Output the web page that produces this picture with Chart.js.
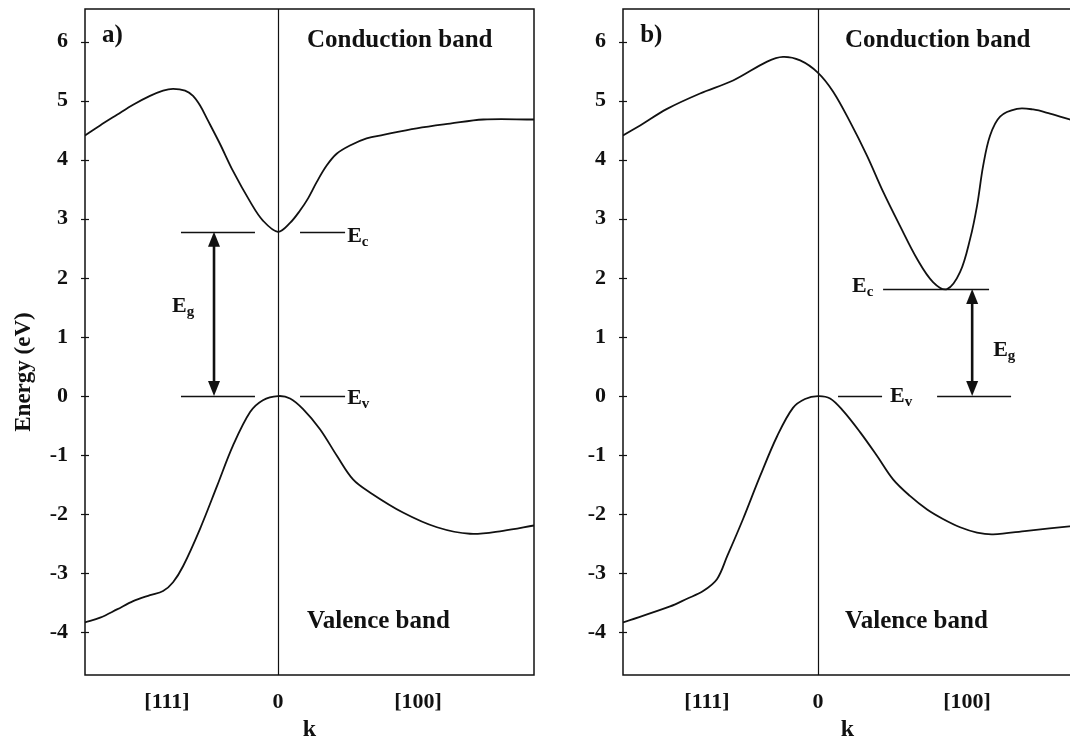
<!DOCTYPE html>
<html><head><meta charset="utf-8">
<script src="https://cdn.jsdelivr.net/npm/chart.js@4.4.1/dist/chart.umd.min.js"></script>
<style>
html,body{margin:0;padding:0;background:#fff;overflow:hidden;width:1070px;height:742px;}
#ca{position:absolute;left:0;top:0;}
#cb{position:absolute;left:540px;top:0;}
</style></head><body>
<canvas id="ca" width="545" height="742"></canvas>
<canvas id="cb" width="545" height="742"></canvas>
<script>
// ---- data ----
const yTickValues = [-4,-3,-2,-1,0,1,2,3,4,5,6];
const xTickLabels = ['[111]','0','[100]'];
const xTickPosA = [-0.434, 0, 0.547];
const xTickPosB = [-0.434, 0, 0.582];

// panel a) conduction band
const kCondA = [-0.754,-0.695,-0.629,-0.566,-0.5,-0.449,-0.41,-0.363,-0.332,-0.305,-0.277,-0.227,-0.176,-0.109,-0.059,0,0.047,0.086,0.118,0.151,0.19,0.229,0.281,0.346,0.411,0.542,0.672,0.802,1.0];
const eCondA = [4.41,4.58,4.76,4.93,5.08,5.17,5.2,5.17,5.08,4.92,4.69,4.27,3.81,3.29,2.97,2.78,2.93,3.14,3.35,3.62,3.9,4.1,4.24,4.36,4.42,4.53,4.61,4.68,4.68];
// panel a) valence band
const kValA = [-0.754,-0.695,-0.629,-0.566,-0.5,-0.449,-0.41,-0.371,-0.305,-0.238,-0.176,-0.109,-0.059,0,0.047,0.098,0.164,0.23,0.293,0.359,0.488,0.621,0.75,0.879,1.0];
const eValA = [-3.83,-3.75,-3.61,-3.47,-3.37,-3.3,-3.15,-2.88,-2.25,-1.52,-0.84,-0.27,-0.07,0,-0.04,-0.22,-0.56,-1.01,-1.41,-1.63,-1.97,-2.22,-2.33,-2.28,-2.19];
// panel b) conduction band
const kCondB = [-0.762,-0.695,-0.59,-0.461,-0.332,-0.199,-0.137,-0.07,0,0.059,0.125,0.191,0.254,0.32,0.387,0.449,0.504,0.555,0.594,0.621,0.645,0.672,0.711,0.777,0.84,0.906,0.992];
const eCondB = [4.41,4.58,4.86,5.12,5.34,5.66,5.74,5.68,5.47,5.15,4.64,4.07,3.46,2.88,2.32,1.93,1.81,2.1,2.66,3.22,3.9,4.41,4.73,4.86,4.85,4.78,4.67];
// panel b) valence band
const kValB = [-0.762,-0.578,-0.512,-0.449,-0.395,-0.355,-0.293,-0.227,-0.16,-0.098,-0.051,0,0.047,0.098,0.164,0.23,0.293,0.359,0.426,0.488,0.555,0.621,0.684,0.816,0.992];
const eValB = [-3.83,-3.56,-3.43,-3.3,-3.1,-2.71,-2.08,-1.36,-0.68,-0.2,-0.05,0,-0.04,-0.25,-0.61,-1.01,-1.41,-1.69,-1.92,-2.08,-2.22,-2.31,-2.34,-2.28,-2.2];

const gapA = {Ec: 2.78, Ev: 0};
const gapB = {Ec: 1.81, Ev: 0};

// ---- drawing ----
const FONT = "'Liberation Serif','Times New Roman',serif";
const INK = '#111111';

function pts(ks, es){ return ks.map((k,i)=>({x:k, y:es[i]})); }

function drawSubText(ctx, x, y, main, sub){
  ctx.font = 'bold 22px ' + FONT;
  ctx.textAlign = 'left'; ctx.textBaseline = 'alphabetic';
  ctx.fillText(main, x, y);
  const w = ctx.measureText(main).width;
  ctx.font = 'bold 15px ' + FONT;
  ctx.fillText(sub, x + w, y + 4);
}

function arrow(ctx, x, y1, y2){
  const hw = 6, hh = 15;
  ctx.lineWidth = 2.6;
  ctx.beginPath(); ctx.moveTo(x, y1 + hh - 2); ctx.lineTo(x, y2 - hh + 2); ctx.stroke();
  ctx.beginPath(); ctx.moveTo(x, y1); ctx.lineTo(x - hw, y1 + hh); ctx.lineTo(x + hw, y1 + hh); ctx.closePath(); ctx.fill();
  ctx.beginPath(); ctx.moveTo(x, y2); ctx.lineTo(x - hw, y2 - hh); ctx.lineTo(x + hw, y2 - hh); ctx.closePath(); ctx.fill();
}

function decoPlugin(cfg){
  return {
    id: 'deco',
    afterDatasetsDraw(chart){
      const ctx = chart.ctx, a = chart.chartArea;
      const xs = chart.scales.x, ys = chart.scales.y;
      const X = v => xs.getPixelForValue(v), Y = v => ys.getPixelForValue(v);
      ctx.save();
      ctx.strokeStyle = INK; ctx.fillStyle = INK;
      ctx.lineWidth = 1.5;
      ctx.strokeRect(a.left, a.top, a.right - a.left, a.bottom - a.top);
      ctx.lineWidth = 1.2;
      ctx.beginPath(); ctx.moveTo(Math.round(X(0))+0.5, a.top); ctx.lineTo(Math.round(X(0))+0.5, a.bottom); ctx.stroke();
      ys.ticks.forEach(t => { const y = Math.round(Y(t.value))+0.5; ctx.beginPath(); ctx.moveTo(a.left-4, y); ctx.lineTo(a.left+4, y); ctx.stroke(); });
      ctx.lineWidth = 1.4;
      cfg.lines.forEach(l => { const y = Math.round(Y(l.e))+0.5; ctx.beginPath(); ctx.moveTo(X(l.k0), y); ctx.lineTo(X(l.k1), y); ctx.stroke(); });
      arrow(ctx, X(cfg.arrow.k), Y(cfg.arrow.e1), Y(cfg.arrow.e0));
      cfg.subLabels.forEach(s => drawSubText(ctx, X(s.k), Y(s.e), s.main, s.sub));
      ctx.font = 'bold 25px ' + FONT; ctx.textBaseline = 'middle'; ctx.textAlign = 'left';
      cfg.texts.forEach(t => ctx.fillText(t.text, X(t.k), Y(t.e)));
      if (cfg.yTitle){
        ctx.translate(24, 372); ctx.rotate(-Math.PI/2);
        ctx.font = 'bold 23px ' + FONT; ctx.textAlign = 'center'; ctx.textBaseline = 'middle';
        ctx.fillText(cfg.yTitle, 0, 0);
      }
      ctx.restore();
    }
  };
}

function makeChart(id, datasets, xmin, xmax, xTickPos, axisW, padRight, cfg){
  return new Chart(document.getElementById(id), {
    type: 'line',
    data: { datasets: datasets.map(d => ({data: d, borderColor: INK, borderWidth: 1.8, pointRadius: 0, tension: 0.35, fill: false})) },
    options: {
      responsive: false, animation: false, devicePixelRatio: 1, events: [],
      layout: { padding: {top: 9, right: padRight, bottom: 0, left: 0} },
      plugins: { legend: {display: false}, tooltip: {enabled: false} },
      scales: {
        x: {
          type: 'linear', min: xmin, max: xmax,
          grid: {display: false, drawTicks: false}, border: {display: false},
          afterBuildTicks: s => { s.ticks = xTickPos.map(v => ({value: v})); },
          afterFit: s => { s.height = 67; s.paddingLeft = 0; s.paddingRight = 0; },
          ticks: { autoSkip: false, maxRotation: 0, padding: 14, color: INK, font: {family: FONT, size: 22, weight: 'bold'},
                   callback: (v, i) => xTickLabels[i] },
          title: { display: true, text: 'k', color: INK, font: {family: FONT, size: 24, weight: 'bold', lineHeight: 1.0}, padding: {top: 0, bottom: 0} }
        },
        y: {
          type: 'linear', min: -4.72, max: 6.55,
          grid: {display: false, drawTicks: false}, border: {display: false},
          afterBuildTicks: s => { s.ticks = yTickValues.map(v => ({value: v})); },
          afterFit: s => { s.width = axisW; s.paddingTop = 0; s.paddingBottom = 0; },
          ticks: { padding: 17, color: INK, font: {family: FONT, size: 22, weight: 'bold'} }
        }
      }
    },
    plugins: [decoPlugin(cfg)]
  });
}

makeChart('ca', [pts(kCondA, eCondA), pts(kValA, eValA)], -0.754, 1.0, xTickPosA, 85, 11, {
  lines: [
    {k0: -0.379, k1: -0.09, e: gapA.Ec}, {k0: 0.086, k1: 0.262, e: gapA.Ec},
    {k0: -0.379, k1: -0.09, e: gapA.Ev}, {k0: 0.086, k1: 0.262, e: gapA.Ev}
  ],
  arrow: {k: -0.25, e1: gapA.Ec, e0: gapA.Ev},
  subLabels: [
    {k: 0.27, e: 2.61, main: 'E', sub: 'c'},
    {k: 0.27, e: -0.136, main: 'E', sub: 'v'},
    {k: -0.414, e: 1.42, main: 'E', sub: 'g'}
  ],
  texts: [
    {k: -0.6875, e: 6.1, text: 'a)'},
    {k: 0.113, e: 6.02, text: 'Conduction band'},
    {k: 0.113, e: -3.81, text: 'Valence band'}
  ],
  yTitle: 'Energy (eV)'
});

makeChart('cb', [pts(kCondB, eCondB), pts(kValB, eValB)], -0.762, 0.992, xTickPosB, 83, 13, {
  lines: [
    {k0: 0.254, k1: 0.668, e: gapB.Ec},
    {k0: 0.465, k1: 0.754, e: gapB.Ev},
    {k0: 0.078, k1: 0.25, e: gapB.Ev}
  ],
  arrow: {k: 0.602, e1: gapB.Ec, e0: gapB.Ev},
  subLabels: [
    {k: 0.133, e: 1.76, main: 'E', sub: 'c'},
    {k: 0.281, e: -0.10, main: 'E', sub: 'v'},
    {k: 0.684, e: 0.68, main: 'E', sub: 'g'}
  ],
  texts: [
    {k: -0.695, e: 6.1, text: 'b)'},
    {k: 0.105, e: 6.02, text: 'Conduction band'},
    {k: 0.105, e: -3.81, text: 'Valence band'}
  ],
  yTitle: null
});
</script>
</body></html>
